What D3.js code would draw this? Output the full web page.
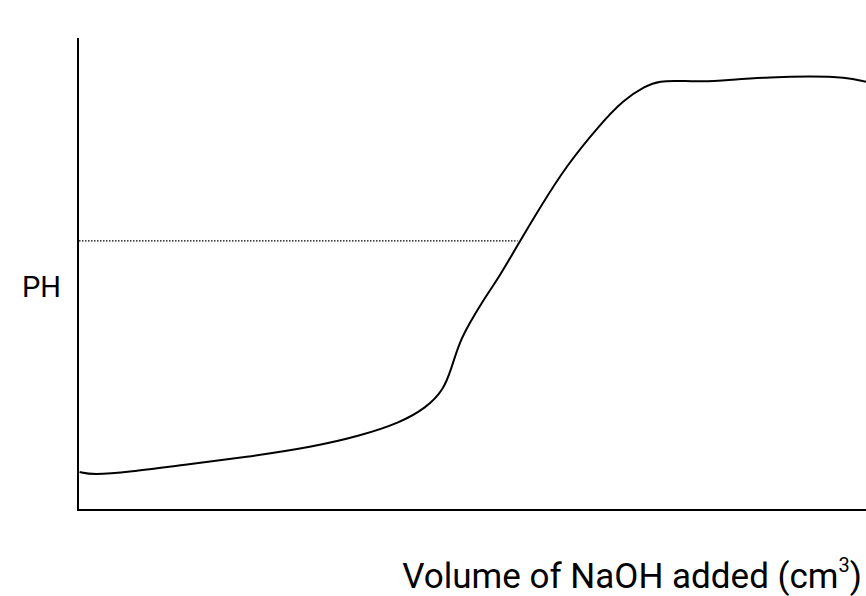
<!DOCTYPE html>
<meta charset="utf-8">
<style>
  body { margin: 0; background: #fff; }
  text { font-family: Roboto, "Noto Sans", sans-serif; fill: #000; }
</style>
<svg width="866" height="596"></svg>
<script src="https://cdn.jsdelivr.net/npm/d3@7/dist/d3.min.js"></script>
<script>

// titration curve (volume in cm3, pH)
var volume = [0.1, 0.9, 3.3, 6.5, 10.7, 14.9, 17.9, 20.4, 22.1, 23.2, 23.7, 24.2, 24.9, 25.6, 26.8, 27.9, 29.3, 31.0, 33.1, 34.6, 36.0, 36.9, 38.2, 39.5, 41.4, 43.9, 46.5, 48.7, 50.0];
var ph     = [1.13, 1.04, 1.13, 1.33, 1.57, 1.87, 2.20, 2.58, 3.03, 3.56, 4.21, 4.98, 5.58, 6.14, 6.97, 7.86, 8.96, 10.22, 11.42, 12.16, 12.58, 12.73, 12.73, 12.70, 12.76, 12.84, 12.87, 12.84, 12.70];

// dotted guide line
var guideVolume = [0, 27.9];
var guidePh = 7.98;

var xLabel = "Volume of NaOH added (cm";
var yLabel = "PH";

var svg = d3.select("svg");

var x = d3.scaleLinear().domain([0, 50]).range([78, 866]);
var y = d3.scaleLinear().domain([0, 14]).range([510, 38]);

var points = volume.map(function(v, i) { return [v, ph[i]]; });

// axes: plain lines, no ticks
svg.append("line")
    .attr("x1", x(0)).attr("x2", x(0))
    .attr("y1", y(14)).attr("y2", y(0) + 1)
    .attr("stroke", "#000").attr("stroke-width", 2);
svg.append("line")
    .attr("x1", x(0) - 1).attr("x2", x(50))
    .attr("y1", y(0)).attr("y2", y(0))
    .attr("stroke", "#000").attr("stroke-width", 2);

svg.append("line")
    .attr("x1", x(guideVolume[0]) + 1).attr("x2", x(guideVolume[1]))
    .attr("y1", y(guidePh)).attr("y2", y(guidePh))
    .attr("stroke", "#000").attr("stroke-width", 1.2)
    .attr("stroke-dasharray", "1.5,1.5");

var line = d3.line()
    .x(function(d) { return x(d[0]); })
    .y(function(d) { return y(d[1]); })
    .curve(d3.curveBasis);

svg.append("path")
    .datum(points)
    .attr("d", line)
    .attr("fill", "none")
    .attr("stroke", "#000")
    .attr("stroke-width", 2);

svg.append("text")
    .attr("x", 22).attr("y", 297)
    .attr("font-size", 29)
    .text(yLabel);

var xt = svg.append("text")
    .attr("x", 862).attr("y", 587.5)
    .attr("text-anchor", "end")
    .attr("font-size", 35);
xt.append("tspan").text(xLabel);
xt.append("tspan").attr("font-size", 20).attr("dy", -16).text("3");
xt.append("tspan").attr("dy", 16).text(")");

</script>
